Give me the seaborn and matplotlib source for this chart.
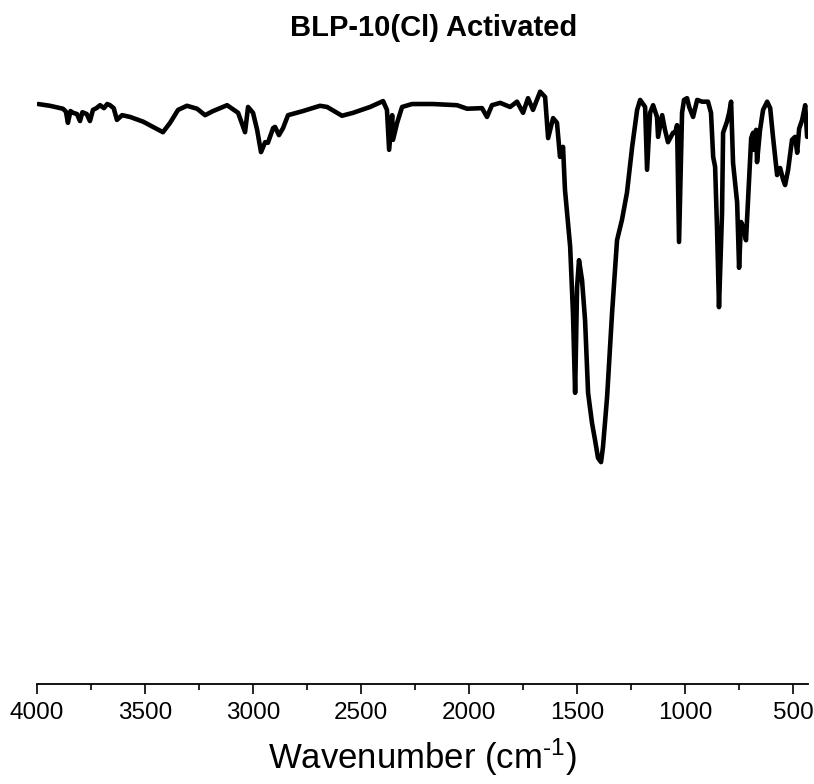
import matplotlib
matplotlib.use("Agg")
import matplotlib.pyplot as plt
import seaborn as sns
import pandas as pd
from matplotlib.ticker import MultipleLocator

# IR spectrum (wavenumber in cm-1, transmittance in %)
wavenumber = [
    3995, 3940, 3880, 3866, 3857, 3845, 3833, 3815, 3801, 3790, 3770, 3755,
    3741, 3725, 3708, 3690, 3675, 3662, 3645, 3630, 3606, 3569, 3509, 3463,
    3417, 3384, 3347, 3306, 3259, 3222, 3185, 3120, 3069, 3037, 3023, 3000,
    2981, 2963, 2944, 2931, 2907, 2898, 2880, 2861, 2838, 2769, 2690, 2657,
    2588, 2537, 2458, 2398, 2380, 2370, 2356, 2352, 2333, 2310, 2264, 2167,
    2056, 2009, 1940, 1917, 1894, 1856, 1810, 1778, 1750, 1727, 1704, 1671,
    1648, 1634, 1611, 1593, 1579, 1565, 1556, 1532, 1519, 1509, 1500, 1491,
    1477, 1463, 1449, 1431, 1417, 1403, 1389, 1380, 1361, 1338, 1315, 1292,
    1269, 1245, 1222, 1208, 1185, 1176, 1162, 1148, 1130, 1125, 1106, 1093,
    1079, 1056, 1046, 1037, 1028, 1014, 1005, 991, 981, 963, 944, 921,
    894, 880, 870, 861, 852, 843, 829, 824, 806, 796, 787, 778,
    759, 750, 741, 731, 718, 708, 694, 685, 681, 671, 667, 653,
    639, 620, 606, 593, 574, 560, 546, 537, 523, 505, 491, 481,
    472, 458, 444, 435,
]
transmittance = [
    99.3, 99.0, 98.5, 98.0, 96.1, 98.1, 97.8, 97.6, 96.4, 97.9, 97.6, 96.4,
    98.3, 98.6, 99.1, 98.6, 99.3, 99.1, 98.6, 96.6, 97.4, 97.1, 96.3, 95.4,
    94.5, 96.1, 98.3, 99.0, 98.5, 97.4, 98.1, 99.1, 97.8, 94.5, 98.8, 97.8,
    94.9, 91.1, 92.8, 92.7, 95.2, 95.4, 94.0, 95.2, 97.4, 98.1, 99.0, 98.8,
    97.3, 97.8, 98.8, 99.8, 98.3, 91.5, 97.4, 93.2, 96.1, 98.8, 99.3, 99.3,
    99.1, 98.5, 98.6, 97.1, 99.1, 99.5, 98.8, 99.7, 97.8, 100.3, 98.3, 101.4,
    100.5, 93.5, 96.9, 96.1, 90.3, 92.0, 84.7, 75.0, 63.7, 50.1, 68.1, 72.7,
    69.3, 62.5, 50.1, 45.0, 42.1, 39.0, 38.3, 40.9, 49.4, 63.7, 76.1, 79.6,
    84.2, 92.0, 98.3, 100.0, 98.8, 88.1, 97.8, 99.1, 97.1, 93.7, 97.4, 94.9,
    92.8, 94.4, 94.4, 95.7, 75.8, 97.8, 100.0, 100.3, 98.8, 97.1, 100.0, 99.7,
    99.7, 97.8, 90.3, 88.6, 78.0, 64.7, 80.7, 94.4, 96.3, 97.8, 99.7, 89.3,
    82.5, 71.4, 79.2, 78.4, 76.1, 83.5, 93.5, 94.4, 91.5, 94.9, 89.4, 94.9,
    98.3, 99.7, 98.6, 93.7, 87.2, 88.4, 86.4, 85.5, 88.1, 93.2, 93.7, 91.0,
    95.1, 96.6, 99.1, 93.7,
]
major_ticks = [4000, 3500, 3000, 2500, 2000, 1500, 1000, 500]
title = "BLP-10(Cl) Activated"
xlabel = r"Wavenumber (cm$^{\text{-1}}$)"

sns.set_theme(style="white")
plt.rcParams["font.family"] = ["Liberation Sans", "DejaVu Sans"]
plt.rcParams["mathtext.fontset"] = "custom"
plt.rcParams["mathtext.rm"] = "Liberation Sans"
plt.rcParams["mathtext.it"] = "Liberation Sans:italic"
plt.rcParams["mathtext.bf"] = "Liberation Sans:bold"
plt.rcParams["text.color"] = "black"
plt.rcParams["axes.labelcolor"] = "black"
plt.rcParams["xtick.color"] = "black"

df = pd.DataFrame({"wavenumber": wavenumber, "transmittance": transmittance})

fig = plt.figure(figsize=(8.14, 7.84), dpi=100)
ax = fig.add_axes([37 / 814, (784 - 684) / 784, (808 - 37) / 814, (684 - 60) / 784])

sns.lineplot(data=df, x="wavenumber", y="transmittance", sort=False,
             estimator=None, color="black", linewidth=3.3, ax=ax)

ax.set_xlim(4000, 431)
ax.set_ylim(0.5, 106.8)
ax.set_xticks(major_ticks)
ax.xaxis.set_minor_locator(MultipleLocator(250))
ax.set_yticks([])
for side in ["top", "right", "left"]:
    ax.spines[side].set_visible(False)
ax.spines["bottom"].set_color("black")
ax.spines["bottom"].set_linewidth(1.3)
ax.tick_params(axis="x", which="major", direction="out", length=7, width=1.2,
               color="black", labelcolor="black", labelsize=17.5, pad=6,
               bottom=True)
ax.tick_params(axis="x", which="minor", direction="out", length=4, width=1.2,
               color="black", bottom=True)
ax.set_xlabel(xlabel, fontsize=25, labelpad=9, color="black")
ax.set_ylabel("")
fig.text(434 / 814, 1 - 28 / 784, title, ha="center", va="center",
         fontsize=21, fontweight="bold", color="black")

fig.savefig("out.png", dpi=100)
